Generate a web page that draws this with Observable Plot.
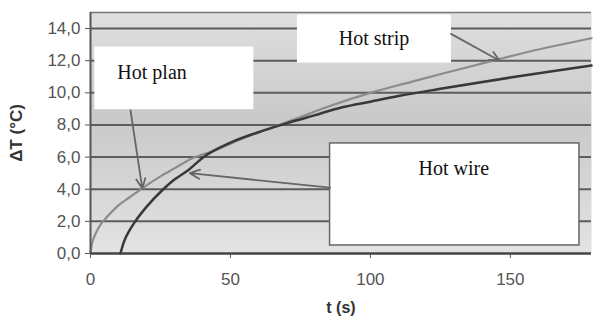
<!DOCTYPE html>
<html>
<head>
<meta charset="utf-8">
<script src="https://cdn.jsdelivr.net/npm/d3@7"></script>
<script src="https://cdn.jsdelivr.net/npm/@observablehq/plot@0.6"></script>
<style>
  html, body { margin: 0; padding: 0; background: white; }
</style>
</head>
<body>
<div id="chart"></div>
<script>
// Hot plan / hot strip curve (light)
const tPlan  = [0, 0.5, 1, 2, 4, 6, 10, 14, 18, 25, 30, 36, 45, 55, 65, 75, 85, 100, 115, 128, 146, 160, 179];
const dtPlan = [0, 0.6, 0.9, 1.3, 1.9, 2.3, 3.0, 3.5, 4.0, 4.8, 5.3, 5.9, 6.45, 7.2, 7.85, 8.5, 9.15, 10.0, 10.7, 11.3, 12.1, 12.7, 13.4];
// Hot wire curve (dark)
const tWire  = [10.7, 12, 14, 16, 20, 26, 30, 35, 40, 50, 60, 70, 80, 90, 100, 110, 125, 150, 165, 179];
const dtWire = [0, 0.75, 1.45, 2.0, 2.9, 4.0, 4.6, 5.2, 5.95, 6.9, 7.55, 8.1, 8.6, 9.1, 9.45, 9.8, 10.25, 10.95, 11.35, 11.7];

const yTicks = [0, 2, 4, 6, 8, 10, 12, 14];
const xTicks = [0, 50, 100, 150];

// annotations (data coordinates)
const labelText = ["Hot plan", "Hot strip", "Hot wire"];
const labelT    = [22, 101.3, 129.8];
const labelDT   = [11.28, 13.38, 5.29];
const boxT1  = [1.8, 74.2, 85.6];
const boxT2  = [58.1, 128.7, 174.7];
const boxDT1 = [9.0, 11.9, 0.5];
const boxDT2 = [12.8, 14.8, 6.85];
const arrowT1  = [14.3, 85.6, 128.8];
const arrowDT1 = [8.9, 4.1, 13.67];
const arrowT2  = [18.5, 35.5, 146.2];
const arrowDT2 = [4.05, 5.0, 12.0];

const plan = tPlan.map((t, i) => ({t, v: dtPlan[i]}));
const wire = tWire.map((t, i) => ({t, v: dtWire[i]}));
const labels = labelText.map((s, i) => ({s, t: labelT[i], v: labelDT[i]}));
const boxes = labelText.map((s, i) => ({s, t1: boxT1[i], t2: boxT2[i], v1: boxDT1[i], v2: boxDT2[i], border: s === "Hot wire"}));
const arrows = labelText.map((s, i) => ({t1: arrowT1[i], v1: arrowDT1[i], t2: arrowT2[i], v2: arrowDT2[i]}));

const chart = Plot.plot({
  width: 593,
  height: 322,
  marginLeft: 90,
  marginRight: 2,
  marginTop: 12,
  marginBottom: 69,
  style: {fontFamily: "'Liberation Sans', Arial, sans-serif", fontSize: "17px", color: "#555", background: "white", overflow: "visible"},
  x: {domain: [0, 179], ticks: xTicks, tickSize: 5, tickPadding: 14, label: null, tickFormat: d => String(d)},
  y: {domain: [0, 15], ticks: yTicks, tickSize: 5, tickPadding: 5, label: null, tickFormat: d => d.toFixed(1).replace(".", ",")},
  marks: [
    Plot.frame({fill: "url(#bgGrad)", stroke: null}),
    Plot.ruleY(yTicks.filter(d => d > 0), {stroke: "#5c5c5c", strokeWidth: 2}),
    Plot.ruleY([15], {stroke: "#777", strokeWidth: 1.5}),
    Plot.line(plan, {x: "t", y: "v", stroke: "#8c8c8c", strokeWidth: 2.2, curve: "monotone-x"}),
    Plot.line(wire, {x: "t", y: "v", stroke: "#383838", strokeWidth: 2.5, curve: "monotone-x"}),
    Plot.rect(boxes, {x1: "t1", x2: "t2", y1: "v1", y2: "v2", fill: "white", stroke: d => d.border ? "#666" : "white", strokeWidth: 1.5}),
    Plot.arrow(arrows, {x1: "t1", y1: "v1", x2: "t2", y2: "v2", stroke: "#666", strokeWidth: 1.8, headLength: 9, headAngle: 50}),
    Plot.text(labels, {x: "t", y: "v", text: "s", fontFamily: "'Liberation Serif', 'Times New Roman', serif", fontSize: 20, fill: "#111"}),
    Plot.ruleY([0], {stroke: "#444", strokeWidth: 2.5}),
    Plot.ruleX([0], {stroke: "#555", strokeWidth: 2}),
    Plot.text(["t (s)"], {frameAnchor: "bottom", dy: 59, fontWeight: "bold", fontSize: 16, fill: "#333"}),
    Plot.text(["ΔT (°C)"], {frameAnchor: "left", textAnchor: "middle", dx: -74, rotate: -90, fontWeight: "bold", fontSize: 17, fill: "#333"})
  ]
});

const svg = chart.tagName.toLowerCase() === "svg" ? chart : chart.querySelector("svg");
const defs = d3.select(svg).insert("defs", ":first-child");
const grad = defs.append("linearGradient").attr("id", "bgGrad").attr("x1", 0).attr("y1", 0).attr("x2", 0).attr("y2", 1);
grad.append("stop").attr("offset", "0%").attr("stop-color", "#dfdfdf");
grad.append("stop").attr("offset", "45%").attr("stop-color", "#c9c9c9");
grad.append("stop").attr("offset", "100%").attr("stop-color", "#e3e3e3");

document.getElementById("chart").appendChild(chart);
</script>
</body>
</html>
